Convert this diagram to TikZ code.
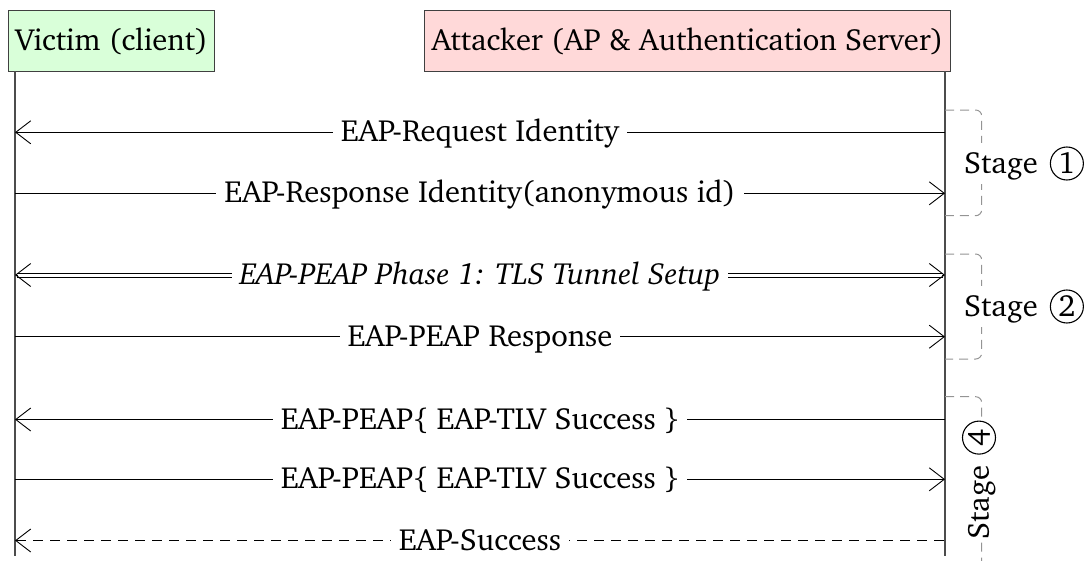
\documentclass[tikz,border=0pt]{standalone}
\usepackage[T1]{fontenc}
\usepackage{charter}
\usetikzlibrary{arrows.meta}
\newcommand\circnum[1]{\tikz[baseline=(cn.base)]\node[draw=black,circle,line width=1.1pt,inner sep=0pt,minimum size=33pt,fill=none,text=black](cn){#1};}
\begin{document}
\begin{tikzpicture}[x=1pt,y=-1pt,
  >={Straight Barb[length=15pt,width=23pt,line width=0.9pt]},
  basefont/.style={font=\fontsize{30.6}{35}\selectfont},
  actor/.style={draw=black!75, line width=1pt, minimum height=61pt, inner xsep=7pt, inner ysep=0pt, basefont},
  lifeline/.style={draw=black!70, line width=1.2pt},
  msg/.style={line width=0.9pt, draw=black},
  dmsg/.style={msg, dash pattern=on 10pt off 7pt},
  lbl/.style={fill=white, inner xsep=8pt, inner ysep=2pt, anchor=base, yshift=-9.6pt, basefont},
  stagebox/.style={draw=black!42, dash pattern=on 9pt off 6pt, line width=1pt, rounded corners=6pt},
  stagelbl/.style={fill=white, inner sep=3pt, basefont}]
\useasboundingbox (0,0) rectangle (1085,560);
% actors
\node[actor, fill=green!15, anchor=north west] (victim) at (8,10) {Victim (client)};
\node[actor, fill=red!15, anchor=north east] (attacker) at (951,10) {Attacker (AP \& Authentication Server)};
% lifeline coordinates
\coordinate (vtop) at (15,71);   \coordinate (vbot) at (15,556);
\coordinate (atop) at (945,71);  \coordinate (abot) at (945,556);
\draw[lifeline] (vtop) -- (vbot);
\draw[lifeline] (atop) -- (abot);
% message end points
\foreach \i/\y in {1/132.3,2/193.3,3/275,4/336.7,5/419.5,6/479.3,7/540.5}{
  \coordinate (v\i) at (15,\y);
  \coordinate (a\i) at (945,\y);
}
\draw[msg,<-] (v1) -- node[lbl] (m1) {EAP-Request Identity} (a1);
\draw[msg,->] (v2) -- node[lbl] (m2) {EAP-Response Identity(anonymous id)} (a2);
% double-line message (Phase 1)
\draw[msg,<->] (v3) -- (a3);
\draw[draw=white, line width=2.2pt, shorten <=3pt, shorten >=3pt] (v3) -- (a3);
\draw[msg, shorten <=2pt, shorten >=2pt] ([yshift=2pt]v3) -- ([yshift=2pt]a3);
\draw[msg, shorten <=2pt, shorten >=2pt] ([yshift=-2pt]v3) -- ([yshift=-2pt]a3);
\path (v3) -- node[lbl] (m3) {\itshape EAP-PEAP Phase 1: TLS Tunnel Setup} (a3);
\draw[msg,->] (v4) -- node[lbl] (m4) {EAP-PEAP Response} (a4);
\draw[msg,<-] (v5) -- node[lbl] (m5) {EAP-PEAP\{ EAP-TLV Success \}} (a5);
\draw[msg,->] (v6) -- node[lbl] (m6) {EAP-PEAP\{ EAP-TLV Success \}} (a6);
\draw[dmsg,<-] (v7) -- node[lbl] (m7) {EAP-Success} (a7);
% stages
\draw[stagebox] (945,110) -- (981.7,110) -- (981.7,215.7) -- (945,215.7);
\draw[stagebox] (945,254) -- (981.7,254) -- (981.7,359) -- (945,359);
\draw[stagebox] (945,396.7) -- (981.7,396.7) -- (981.7,600);
\node[stagelbl] (s1) at (1024,163.5) {Stage\hspace{12pt}\circnum{1}};
\node[stagelbl] (s2) at (1024,306.5) {Stage\hspace{12pt}\circnum{2}};
\node[stagelbl, rotate=90] (s4) at (979,480) {Stage\hspace{11pt}\circnum{4}};
\end{tikzpicture}
\end{document}
